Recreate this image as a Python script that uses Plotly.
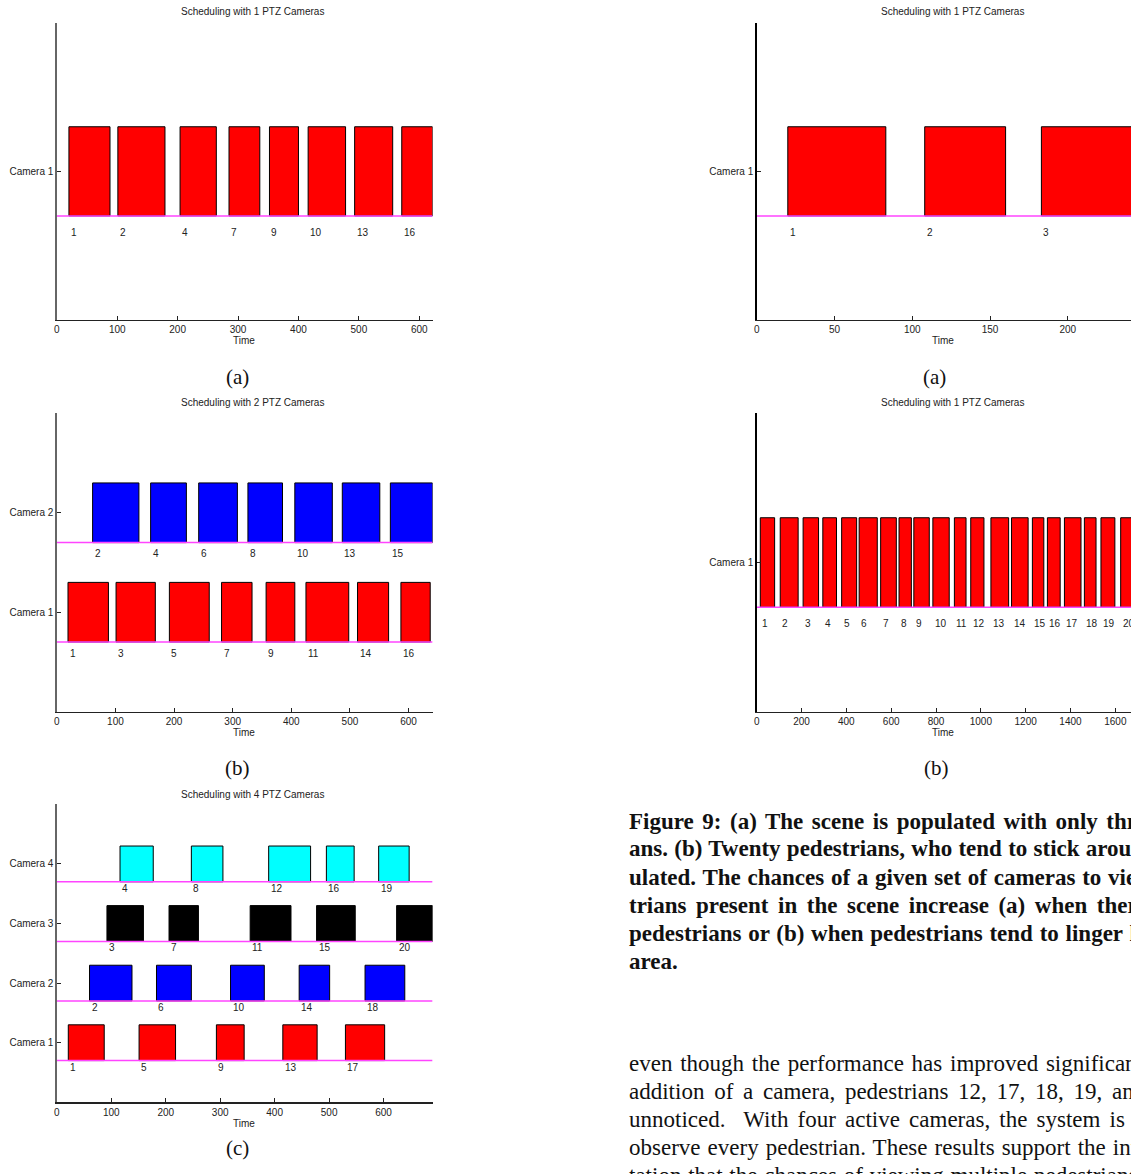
import plotly.graph_objects as go

# ---------------- data ----------------
# Left (a): 1 camera
la_ids = [1, 2, 4, 7, 9, 10, 13, 16]
la_start = [20, 101, 204, 285, 352, 416, 493, 571]
la_end = [88, 179, 264, 336, 400, 478, 556, 622]

# Left (b): 2 cameras
lb1_ids = [1, 3, 5, 7, 9, 11, 14, 16]
lb1_start = [19, 101, 192, 281, 357, 425, 513, 587]
lb1_end = [88, 168, 260, 333, 406, 498, 566, 637]
lb2_ids = [2, 4, 6, 8, 10, 13, 15]
lb2_start = [61, 160, 242, 326, 406, 487, 569]
lb2_end = [140, 221, 308, 385, 470, 551, 641]

# Left (c): 4 cameras
lc1_ids = [1, 5, 9, 13, 17]
lc1_start = [21, 151, 293, 415, 530]
lc1_end = [87, 218, 344, 478, 602]
lc2_ids = [2, 6, 10, 14, 18]
lc2_start = [60, 183, 319, 445, 566]
lc2_end = [138, 247, 381, 501, 639]
lc3_ids = [3, 7, 11, 15, 20]
lc3_start = [92, 206, 355, 477, 624]
lc3_end = [159, 260, 430, 548, 690]
lc4_ids = [4, 8, 12, 16, 19]
lc4_start = [116, 247, 389, 495, 591]
lc4_end = [177, 305, 466, 546, 647]

# Right (a): 3 pedestrians
ra_ids = [1, 2, 3]
ra_start = [20, 108, 183]
ra_end = [83, 160, 250]

# Right (b): 20 pedestrians
rb_ids = list(range(1, 21))
rb_start = [16, 105, 207, 295, 379, 457, 553, 635, 701, 786,
            882, 955, 1045, 1137, 1230, 1297, 1373, 1462, 1536, 1624]
rb_end = [80, 185, 276, 356, 446, 538, 623, 690, 770, 859,
          934, 1014, 1124, 1211, 1281, 1354, 1447, 1514, 1598, 1700]

cam_colors = {1: "#ff0000", 2: "#0000ff", 3: "#000000", 4: "#00ffff"}

titles = ["Scheduling with 1 PTZ Cameras", "Scheduling with 2 PTZ Cameras",
          "Scheduling with 4 PTZ Cameras", "Scheduling with 1 PTZ Cameras",
          "Scheduling with 1 PTZ Cameras"]

caption_lines = [
    "Figure 9: (a) The scene is populated with only three pedestri-",
    "ans. (b) Twenty pedestrians, who tend to stick around, are sim-",
    "ulated. The chances of a given set of cameras to view all pedes-",
    "trians present in the scene increase (a) when there are fewer",
    "pedestrians or (b) when pedestrians tend to linger longer in the",
    "area.",
]
caption_wordspace = [2.8, 0.5, 1.0, 3.8, 1.0, 0.0]
body_lines = [
    "even though the performance has improved significantly with the",
    "addition of a camera, pedestrians 12, 17, 18, 19, and 20 go",
    "unnoticed.\u00a0 With four active cameras, the system is able to",
    "observe every pedestrian. These results support the interpre-",
    "tation that the chances of viewing multiple pedestrians",
]
body_wordspace = [2.0, 4.0, 3.4, 1.3, 1.0]

# ---------------- layout helpers (page pixels -> paper) ----------------
W, H = 1131, 1174


def fx(X):
    return X / W


def fy(Y):
    return 1 - Y / H


SANS = "Liberation Sans, Arial, sans-serif"
SERIF = "Liberation Serif, Times New Roman, serif"

panels = [
    dict(x0=54, x1=430.7, y0=22.7, y1=320, xmax=622, xt=list(range(0, 601, 100)), ncam=1,
         series=[(1, la_ids, la_start, la_end)], axc="#666"),
    dict(x0=54, x1=430.7, y0=413.3, y1=711.7, xmax=641, xt=list(range(0, 601, 100)), ncam=2,
         series=[(1, lb1_ids, lb1_start, lb1_end), (2, lb2_ids, lb2_start, lb2_end)], axc="#666"),
    dict(x0=54, x1=430.7, y0=804.3, y1=1102.3, xmax=690, xt=list(range(0, 601, 100)), ncam=4,
         series=[(1, lc1_ids, lc1_start, lc1_end), (2, lc2_ids, lc2_start, lc2_end),
                 (3, lc3_ids, lc3_start, lc3_end), (4, lc4_ids, lc4_start, lc4_end)], axc="#666"),
    dict(x0=755.7, x1=W, y0=22.7, y1=320, xmax=240.6, xt=list(range(0, 201, 50)), ncam=1,
         series=[(1, ra_ids, ra_start, ra_end)], axc="#000"),
    dict(x0=755.7, x1=W, y0=413.3, y1=711.7, xmax=1670, xt=list(range(0, 1601, 200)), ncam=1,
         series=[(1, rb_ids, rb_start, rb_end)], axc="#000"),
]

fig = go.Figure()
annotations = []
layout = {}

for i, p in enumerate(panels, start=1):
    xa = "x" if i == 1 else f"x{i}"
    ya = "y" if i == 1 else f"y{i}"
    for cam, ids, st, en in p["series"]:
        fig.add_trace(go.Bar(
            orientation="h", y=[cam] * len(st), base=st,
            x=[e - s for s, e in zip(st, en)], width=0.6,
            marker=dict(color=cam_colors[cam], line=dict(color="#000", width=1)),
            xaxis=xa, yaxis=ya, showlegend=False, hoverinfo="skip"))
        fig.add_trace(go.Scatter(
            x=[0, p["xmax"]], y=[cam - 0.3, cam - 0.3], mode="lines",
            line=dict(color="#ff44ff", width=1.5), xaxis=xa, yaxis=ya,
            showlegend=False, hoverinfo="skip"))
        for pid, s in zip(ids, st):
            annotations.append(dict(
                x=s, y=cam - 0.41, xref=xa, yref=ya, text=str(pid), showarrow=False,
                xanchor="left", yanchor="middle", font=dict(family=SANS, size=10, color="#222")))
    axkey = "xaxis" if i == 1 else f"xaxis{i}"
    aykey = "yaxis" if i == 1 else f"yaxis{i}"
    layout[axkey] = dict(
        domain=[fx(p["x0"]), min(1.0, fx(p["x1"]))], range=[0, p["xmax"]], anchor=ya,
        showline=True, linecolor="#222", linewidth=1.2, ticks="inside", ticklen=4,
        tickcolor="#222", tickvals=p["xt"], showgrid=False, zeroline=False,
        tickfont=dict(family=SANS, size=10, color="#222"), fixedrange=True)
    layout[aykey] = dict(
        domain=[fy(p["y1"]), fy(p["y0"])], range=[0, p["ncam"] + 1], anchor=xa,
        showline=True, linecolor=p["axc"], linewidth=1.5, ticks="inside", ticklen=4,
        tickcolor="#222", tickvals=list(range(1, p["ncam"] + 1)),
        ticktext=[f"Camera {k}" for k in range(1, p["ncam"] + 1)],
        showgrid=False, zeroline=False, tickfont=dict(family=SANS, size=10, color="#222"),
        fixedrange=True)

# titles and axis labels
title_pos = [(250.5, 11.7), (250.5, 402.7), (250.5, 794), (951.8, 11.7), (951.8, 402.7)]
time_pos = [(241.7, 340.7), (241.7, 732.3), (241.7, 1123.3), (943, 340.7), (943, 732.3)]
for t, (X, Y) in zip(titles, title_pos):
    annotations.append(dict(x=fx(X), y=fy(Y), xref="paper", yref="paper", text=t,
                            showarrow=False, xanchor="center", yanchor="middle",
                            font=dict(family=SANS, size=10, color="#222")))
for X, Y in time_pos:
    annotations.append(dict(x=fx(X), y=fy(Y), xref="paper", yref="paper", text="Time",
                            showarrow=False, xanchor="center", yanchor="middle",
                            font=dict(family=SANS, size=10, color="#222")))

# sub-figure labels
sub_labels = [("(a)", 235, 377), ("(b)", 235, 768), ("(c)", 235, 1148),
              ("(a)", 934, 377), ("(b)", 936, 768)]
for t, X, Y in sub_labels:
    annotations.append(dict(x=fx(X), y=fy(Y), xref="paper", yref="paper", text=t,
                            showarrow=False, xanchor="center", yanchor="middle",
                            font=dict(family=SERIF, size=21, color="#111")))

# caption and body text (justified look via word spacing)
CAP_X = 626
cap_y = [821, 849, 877, 905, 933, 961]
for t, ws, Y in zip(caption_lines, caption_wordspace, cap_y):
    annotations.append(dict(x=fx(CAP_X), y=fy(Y), xref="paper", yref="paper",
                            text=f"<b><span style='word-spacing:{ws}px'>{t}</span></b>",
                            showarrow=False, xanchor="left",
                            yanchor="middle", font=dict(family=SERIF, size=23, color="#111")))
body_y = [1063, 1091.5, 1119, 1147, 1175]
for t, ws, Y in zip(body_lines, body_wordspace, body_y):
    annotations.append(dict(x=fx(CAP_X), y=fy(Y), xref="paper", yref="paper",
                            text=f"<span style='word-spacing:{ws}px'>{t}</span>",
                            showarrow=False, xanchor="left",
                            yanchor="middle", font=dict(family=SERIF, size=23, color="#111")))

fig.update_layout(
    width=W, height=H, margin=dict(l=0, r=0, t=0, b=0),
    paper_bgcolor="white", plot_bgcolor="white", barmode="overlay",
    annotations=annotations, **layout)

fig.write_html("out.html", config={"displayModeBar": False, "staticPlot": True},
               post_script="document.body.style.margin='0';")
